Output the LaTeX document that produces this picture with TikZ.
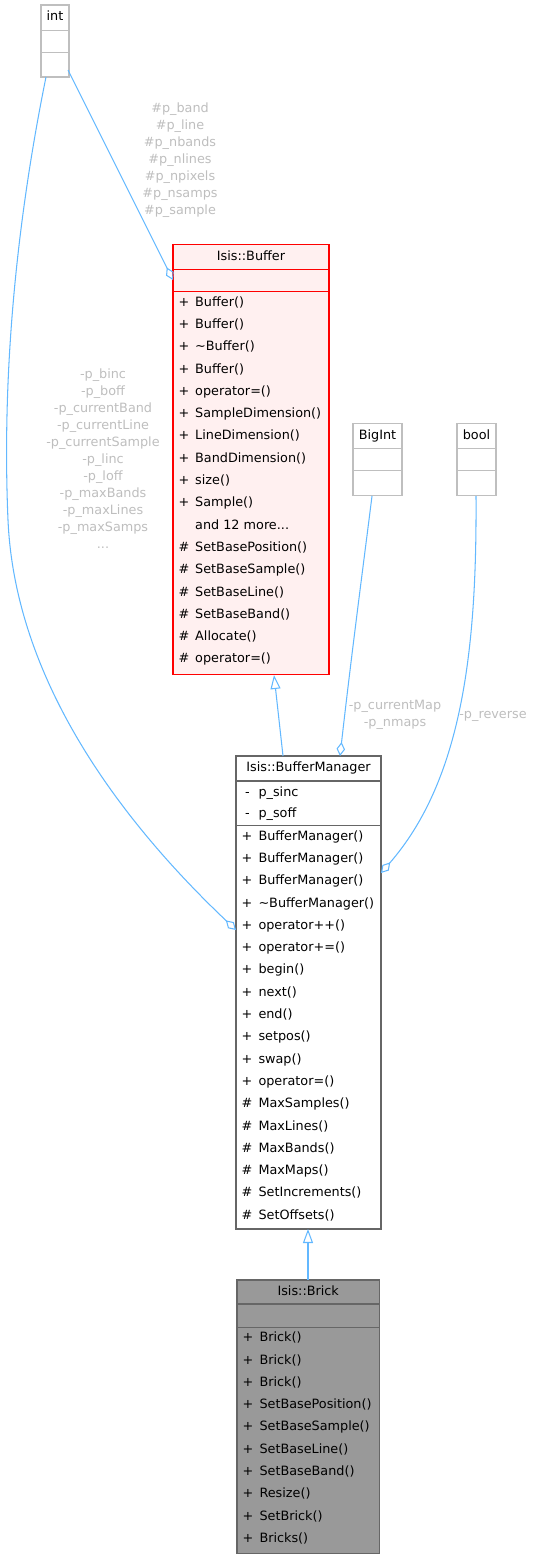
\documentclass[tikz,border=0pt]{standalone}
\usepackage{fontspec}
\setmainfont{DejaVu Sans}
\usetikzlibrary{arrows.meta}
\definecolor{edgeblue}{HTML}{63B8FF}
\definecolor{lblgrey}{HTML}{BEBEBE}
\definecolor{boxgrey}{HTML}{BFBFBF}
\definecolor{darkborder}{HTML}{666666}
\definecolor{bufFill}{HTML}{FFF0F0}
\definecolor{bufBorder}{HTML}{FF0000}
\definecolor{brickFill}{HTML}{999999}
\newcommand\threedots{.{}.{}.}
\tikzset{
  txt/.style={font=\fontsize{12.8}{17}\selectfont, inner sep=0pt, text height=9.3pt, text depth=2.4pt},
  lbl/.style={font=\fontsize{12.8}{17}\selectfont, text=lblgrey, align=center, inner sep=0pt},
  edge/.style={draw=edgeblue, line width=1.05pt},
  agg/.style={edge, {Diamond[open,length=14pt,width=8.5pt]}-},
  inh/.style={edge, {Triangle[open,length=14pt,width=10pt]}-},
  boxbase/.style={rectangle, inner sep=0pt, outer sep=0pt, line width=1.05pt, anchor=north west},
  plainbox/.style={boxbase, draw=boxgrey, fill=white},
  bufbox/.style={boxbase, draw=bufBorder, fill=bufFill},
  bmbox/.style={boxbase, draw=darkborder, fill=white},
  brickbox/.style={boxbase, draw=darkborder, fill=brickFill},
  divider/.style={line width=1.05pt},
}
\begin{document}
\begin{tikzpicture}[x=1pt,y=-1pt]
\useasboundingbox (0,0) rectangle (533,1559);

% ---------- int ----------
\node[plainbox, minimum width=28pt, minimum height=72pt] (int) at (41,5) {};
\draw[boxgrey, divider] (int.west |- 0,30.3) -- (int.east |- 0,30.3);
\draw[boxgrey, divider] (int.west |- 0,52.3) -- (int.east |- 0,52.3);
\node[txt] (int-t) at (55,17.5) {int};

% ---------- BigInt ----------
\node[plainbox, minimum width=49pt, minimum height=72.2pt] (bigint) at (353,423.5) {};
\draw[boxgrey, divider] (bigint.west |- 0,448.3) -- (bigint.east |- 0,448.3);
\draw[boxgrey, divider] (bigint.west |- 0,470.7) -- (bigint.east |- 0,470.7);
\node[txt] (bigint-t) at (377.5,435.8) {BigInt};

% ---------- bool ----------
\node[plainbox, minimum width=39pt, minimum height=72.2pt] (bool) at (457,423.5) {};
\draw[boxgrey, divider] (bool.west |- 0,448.3) -- (bool.east |- 0,448.3);
\draw[boxgrey, divider] (bool.west |- 0,470.7) -- (bool.east |- 0,470.7);
\node[txt] (bool-t) at (476.5,435.8) {bool};

% ---------- Isis::Buffer ----------
\node[bufbox, minimum width=156pt, minimum height=430pt] (buf) at (173,244.5) {};
\draw[bufBorder, divider] (buf.west |- 0,269.3) -- (buf.east |- 0,269.3);
\draw[bufBorder, divider] (buf.west |- 0,291.7) -- (buf.east |- 0,291.7);
\node[txt] (buf-t) at (251,257) {Isis::Buffer};
\foreach \s/\t [count=\i from 0] in {+/Buffer(),+/Buffer(),+/\textasciitilde Buffer(),+/Buffer(),
  +/operator=(),+/SampleDimension(),+/LineDimension(),+/BandDimension(),+/size(),+/Sample(),
  {}/and 12 more\threedots,\#/SetBasePosition(),\#/SetBaseSample(),\#/SetBaseLine(),\#/SetBaseBand(),
  \#/Allocate(),\#/operator=()}{
  \node[txt] (buf-s\i) at (184,{302.7+\i*22.3}) {\s};
  \node[txt, anchor=west] (buf-r\i) at (195,{302.7+\i*22.3}) {\t};
}

% ---------- Isis::BufferManager ----------
\node[bmbox, minimum width=145pt, minimum height=473pt] (bm) at (236,756) {};
\draw[darkborder, divider] (bm.west |- 0,781) -- (bm.east |- 0,781);
\draw[darkborder, divider] (bm.west |- 0,825.7) -- (bm.east |- 0,825.7);
\node[txt] (bm-t) at (308.5,768.5) {Isis::BufferManager};
\foreach \s/\t [count=\i from 0] in {-/p\_sinc,-/p\_soff}{
  \node[txt] (bm-as\i) at (247.5,{792.7+\i*21.8}) {\s};
  \node[txt, anchor=west] (bm-a\i) at (258.3,{792.7+\i*21.8}) {\t};
}
\foreach \s/\t [count=\i from 0] in {+/BufferManager(),+/BufferManager(),+/BufferManager(),
  +/\textasciitilde BufferManager(),+/operator++(),+/operator+=(),+/begin(),+/next(),+/end(),
  +/setpos(),+/swap(),+/operator=(),\#/MaxSamples(),\#/MaxLines(),\#/MaxBands(),\#/MaxMaps(),
  \#/SetIncrements(),\#/SetOffsets()}{
  \node[txt] (bm-s\i) at (247,{836.7+\i*22.3}) {\s};
  \node[txt, anchor=west] (bm-r\i) at (258.3,{836.7+\i*22.3}) {\t};
}

% ---------- Isis::Brick ----------
\node[brickbox, minimum width=142.5pt, minimum height=273.3pt] (brick) at (237,1280) {};
\draw[darkborder, divider] (brick.west |- 0,1304) -- (brick.east |- 0,1304);
\draw[darkborder, divider] (brick.west |- 0,1327.3) -- (brick.east |- 0,1327.3);
\node[txt] (brick-t) at (308.2,1292.5) {Isis::Brick};
\foreach \s/\t [count=\i from 0] in {+/Brick(),+/Brick(),+/Brick(),+/SetBasePosition(),
  +/SetBaseSample(),+/SetBaseLine(),+/SetBaseBand(),+/Resize(),+/SetBrick(),+/Bricks()}{
  \node[txt] (brick-s\i) at (248,{1338.3+\i*22.3}) {\s};
  \node[txt, anchor=west] (brick-r\i) at (259.3,{1338.3+\i*22.3}) {\t};
}

% ---------- connector anchors ----------
\coordinate (intR) at (68,70);
\coordinate (intB) at (46,77);
\coordinate (bufL) at (173,280);
\coordinate (bufB) at (274,675);
\coordinate (bmT) at (283,756);
\coordinate (bmTd) at (340,756);
\coordinate (bmL) at (236,930);
\coordinate (bmR) at (381,873);
\coordinate (bmB) at (308,1229);
\coordinate (brickT) at (308,1280);
\coordinate (bigintB) at (372,496);
\coordinate (boolB) at (476,496);

% ---------- connectors ----------
\draw[agg] (bufL) -- (intR);
\draw[agg] (bmL) .. controls (120,820) and (15,680) .. (8,520)
                 .. controls (2,380) and (15,230) .. (intB);
\draw[inh] (bufB) -- (bmT);
\draw[agg] (bmTd) .. controls (352,650) and (364,560) .. (bigintB);
\draw[agg] (bmR) .. controls (462,780) and (477,650) .. (boolB);
\draw[inh] (bmB) -- (brickT);

% ---------- edge labels ----------
\node[lbl] (l1) at (180,160) {\#p\_band\\\#p\_line\\\#p\_nbands\\\#p\_nlines\\\#p\_npixels\\\#p\_nsamps\\\#p\_sample};
\node[lbl] (l2) at (103,459) {-p\_binc\\-p\_boff\\-p\_currentBand\\-p\_currentLine\\-p\_currentSample\\-p\_linc\\-p\_loff\\-p\_maxBands\\-p\_maxLines\\-p\_maxSamps\\\threedots};
\node[lbl] (l3) at (395,715) {-p\_currentMap\\-p\_nmaps};
\node[lbl] (l4) at (493,716) {-p\_reverse};
\end{tikzpicture}
\end{document}
